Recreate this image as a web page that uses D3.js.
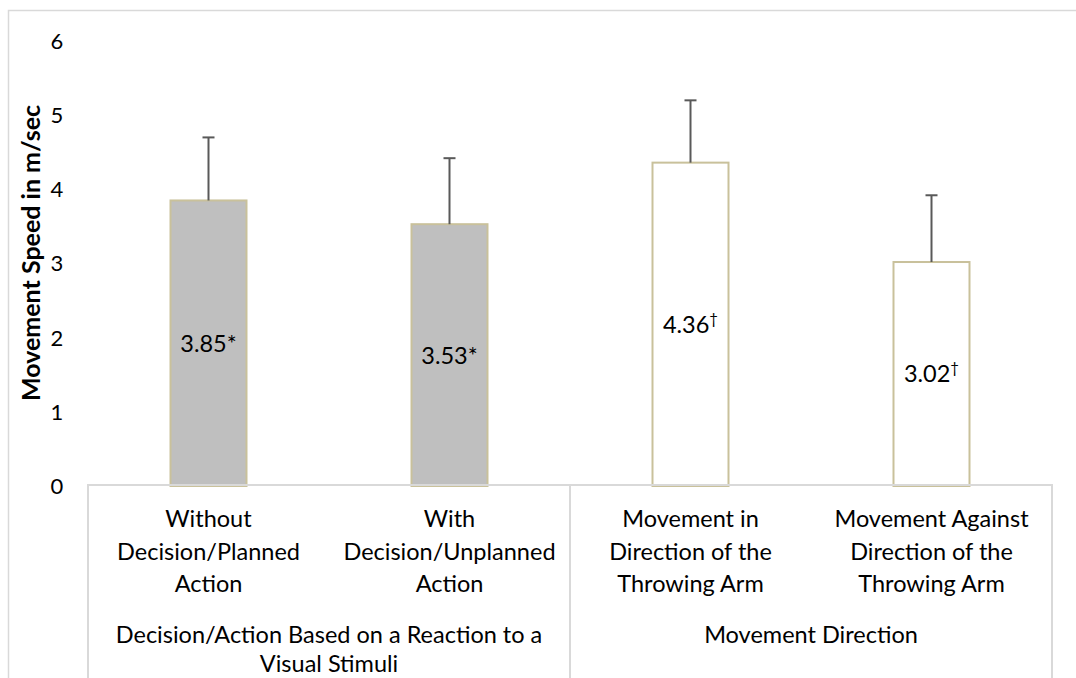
<!DOCTYPE html>
<html>
<head>
<meta charset="utf-8">
<script src="https://cdn.jsdelivr.net/npm/d3@7"></script>
<style>
  body { margin: 0; background: #fff; }
  text { font-family: Lato, "Open Sans", sans-serif; fill: #000; }
</style>
</head>
<body>
<div id="chart"></div>
<script>
// data
const categories = [
  ["Without", "Decision/Planned", "Action"],
  ["With", "Decision/Unplanned", "Action"],
  ["Movement in", "Direction of the", "Throwing Arm"],
  ["Movement Against", "Direction of the", "Throwing Arm"]
];
const groups = [
  { label: ["Decision/Action Based on a Reaction to a", "Visual Stimuli"], span: [0, 1] },
  { label: ["Movement Direction"], span: [2, 3] }
];
const means = [3.85, 3.53, 4.36, 3.02];
const errors = [0.85, 0.89, 0.84, 0.90];
const marks = ["*", "*", "†", "†"];
const filled = [true, true, false, false];
const yTicks = [0, 1, 2, 3, 4, 5, 6];

const width = 1076;
const height = 678;
const plotL = 88, plotR = 1052, plotT = 41, plotB = 486;
const fs = 23.5;

const svg = d3.select("#chart")
  .append("svg")
    .attr("width", width)
    .attr("height", height);

// outer chart border
svg.append("rect")
  .attr("x", 8.5).attr("y", 10.5)
  .attr("width", 1100).attr("height", 700)
  .style("fill", "none")
  .style("stroke", "#d9d9d9")
  .style("stroke-width", 1.5);

const x = d3.scaleBand()
  .domain(d3.range(categories.length))
  .range([plotL, plotR])
  .paddingInner(0)
  .paddingOuter(0);

const y = d3.scaleLinear()
  .domain([0, 6])
  .range([plotB, plotT]);

// y tick labels
svg.append("g")
  .selectAll("text")
  .data(yTicks)
  .join("text")
    .attr("x", 57)
    .attr("y", (d) => y(d))
    .attr("dy", "0.36em")
    .attr("text-anchor", "middle")
    .style("font-size", "22px")
    .text((d) => d);

// y axis title
svg.append("text")
  .attr("transform", `translate(40,253) rotate(-90)`)
  .attr("text-anchor", "middle")
  .style("font-size", "25px")
  .style("font-weight", "bold")
  .text("Movement Speed in m/sec");

const barW = 76;

// bars
svg.append("g")
  .selectAll("rect")
  .data(means)
  .join("rect")
    .attr("x", (d, i) => x(i) + x.bandwidth() / 2 - barW / 2)
    .attr("y", (d) => y(d))
    .attr("width", barW)
    .attr("height", (d) => y(0) - y(d))
    .style("fill", (d, i) => filled[i] ? "#bfbfbf" : "#fff")
    .style("stroke", "#c9c19b")
    .style("stroke-width", 2);

// error bars (upper only)
const err = svg.append("g")
  .selectAll("g")
  .data(means)
  .join("g")
    .attr("transform", (d, i) => `translate(${x(i) + x.bandwidth() / 2},0)`);
err.append("line")
  .attr("y1", (d) => y(d))
  .attr("y2", (d, i) => y(d + errors[i]))
  .style("stroke", "#595959")
  .style("stroke-width", 2);
err.append("line")
  .attr("x1", -6).attr("x2", 6)
  .attr("y1", (d, i) => y(d + errors[i]))
  .attr("y2", (d, i) => y(d + errors[i]))
  .style("stroke", "#595959")
  .style("stroke-width", 2);

// value labels, centred in the bars
const vl = svg.append("g")
  .selectAll("text")
  .data(means)
  .join("text")
    .attr("x", (d, i) => x(i) + x.bandwidth() / 2)
    .attr("y", (d) => y(d / 2))
    .attr("dy", "0.36em")
    .attr("text-anchor", "middle")
    .style("font-size", fs + "px");
vl.append("tspan").text((d) => d.toFixed(2));
vl.append("tspan")
  .text((d, i) => marks[i])
  .attr("baseline-shift", (d, i) => marks[i] === "†" ? "super" : null)
  .style("font-size", (d, i) => marks[i] === "†" ? "15px" : fs + "px");

// category axis box
const axisColor = "#d9d9d9";
svg.append("line")
  .attr("x1", plotL).attr("x2", plotR)
  .attr("y1", plotB - 1).attr("y2", plotB - 1)
  .style("stroke", axisColor).style("stroke-width", 2);

const dividers = [plotL, x(groups[1].span[0]), plotR];
svg.append("g")
  .selectAll("line")
  .data(dividers)
  .join("line")
    .attr("x1", (d) => d).attr("x2", (d) => d)
    .attr("y1", plotB - 2).attr("y2", height)
    .style("stroke", axisColor).style("stroke-width", 2);

// category labels
const lineH = 32.5;
svg.append("g")
  .selectAll("text")
  .data(categories)
  .join("text")
    .attr("text-anchor", "middle")
    .style("font-size", fs + "px")
    .attr("transform", (d, i) => `translate(${x(i) + x.bandwidth() / 2},527)`)
  .selectAll("tspan")
  .data((d) => d)
  .join("tspan")
    .attr("x", 0)
    .attr("y", (d, j) => j * lineH)
    .text((d) => d);

// group labels
svg.append("g")
  .selectAll("text")
  .data(groups)
  .join("text")
    .attr("text-anchor", "middle")
    .style("font-size", fs + "px")
    .attr("transform", (d) => {
      const cx = (x(d.span[0]) + x(d.span[1]) + x.bandwidth()) / 2;
      return `translate(${cx},643)`;
    })
  .selectAll("tspan")
  .data((d) => d.label)
  .join("tspan")
    .attr("x", 0)
    .attr("y", (d, j) => j * 29)
    .text((d) => d);
</script>
</body>
</html>
